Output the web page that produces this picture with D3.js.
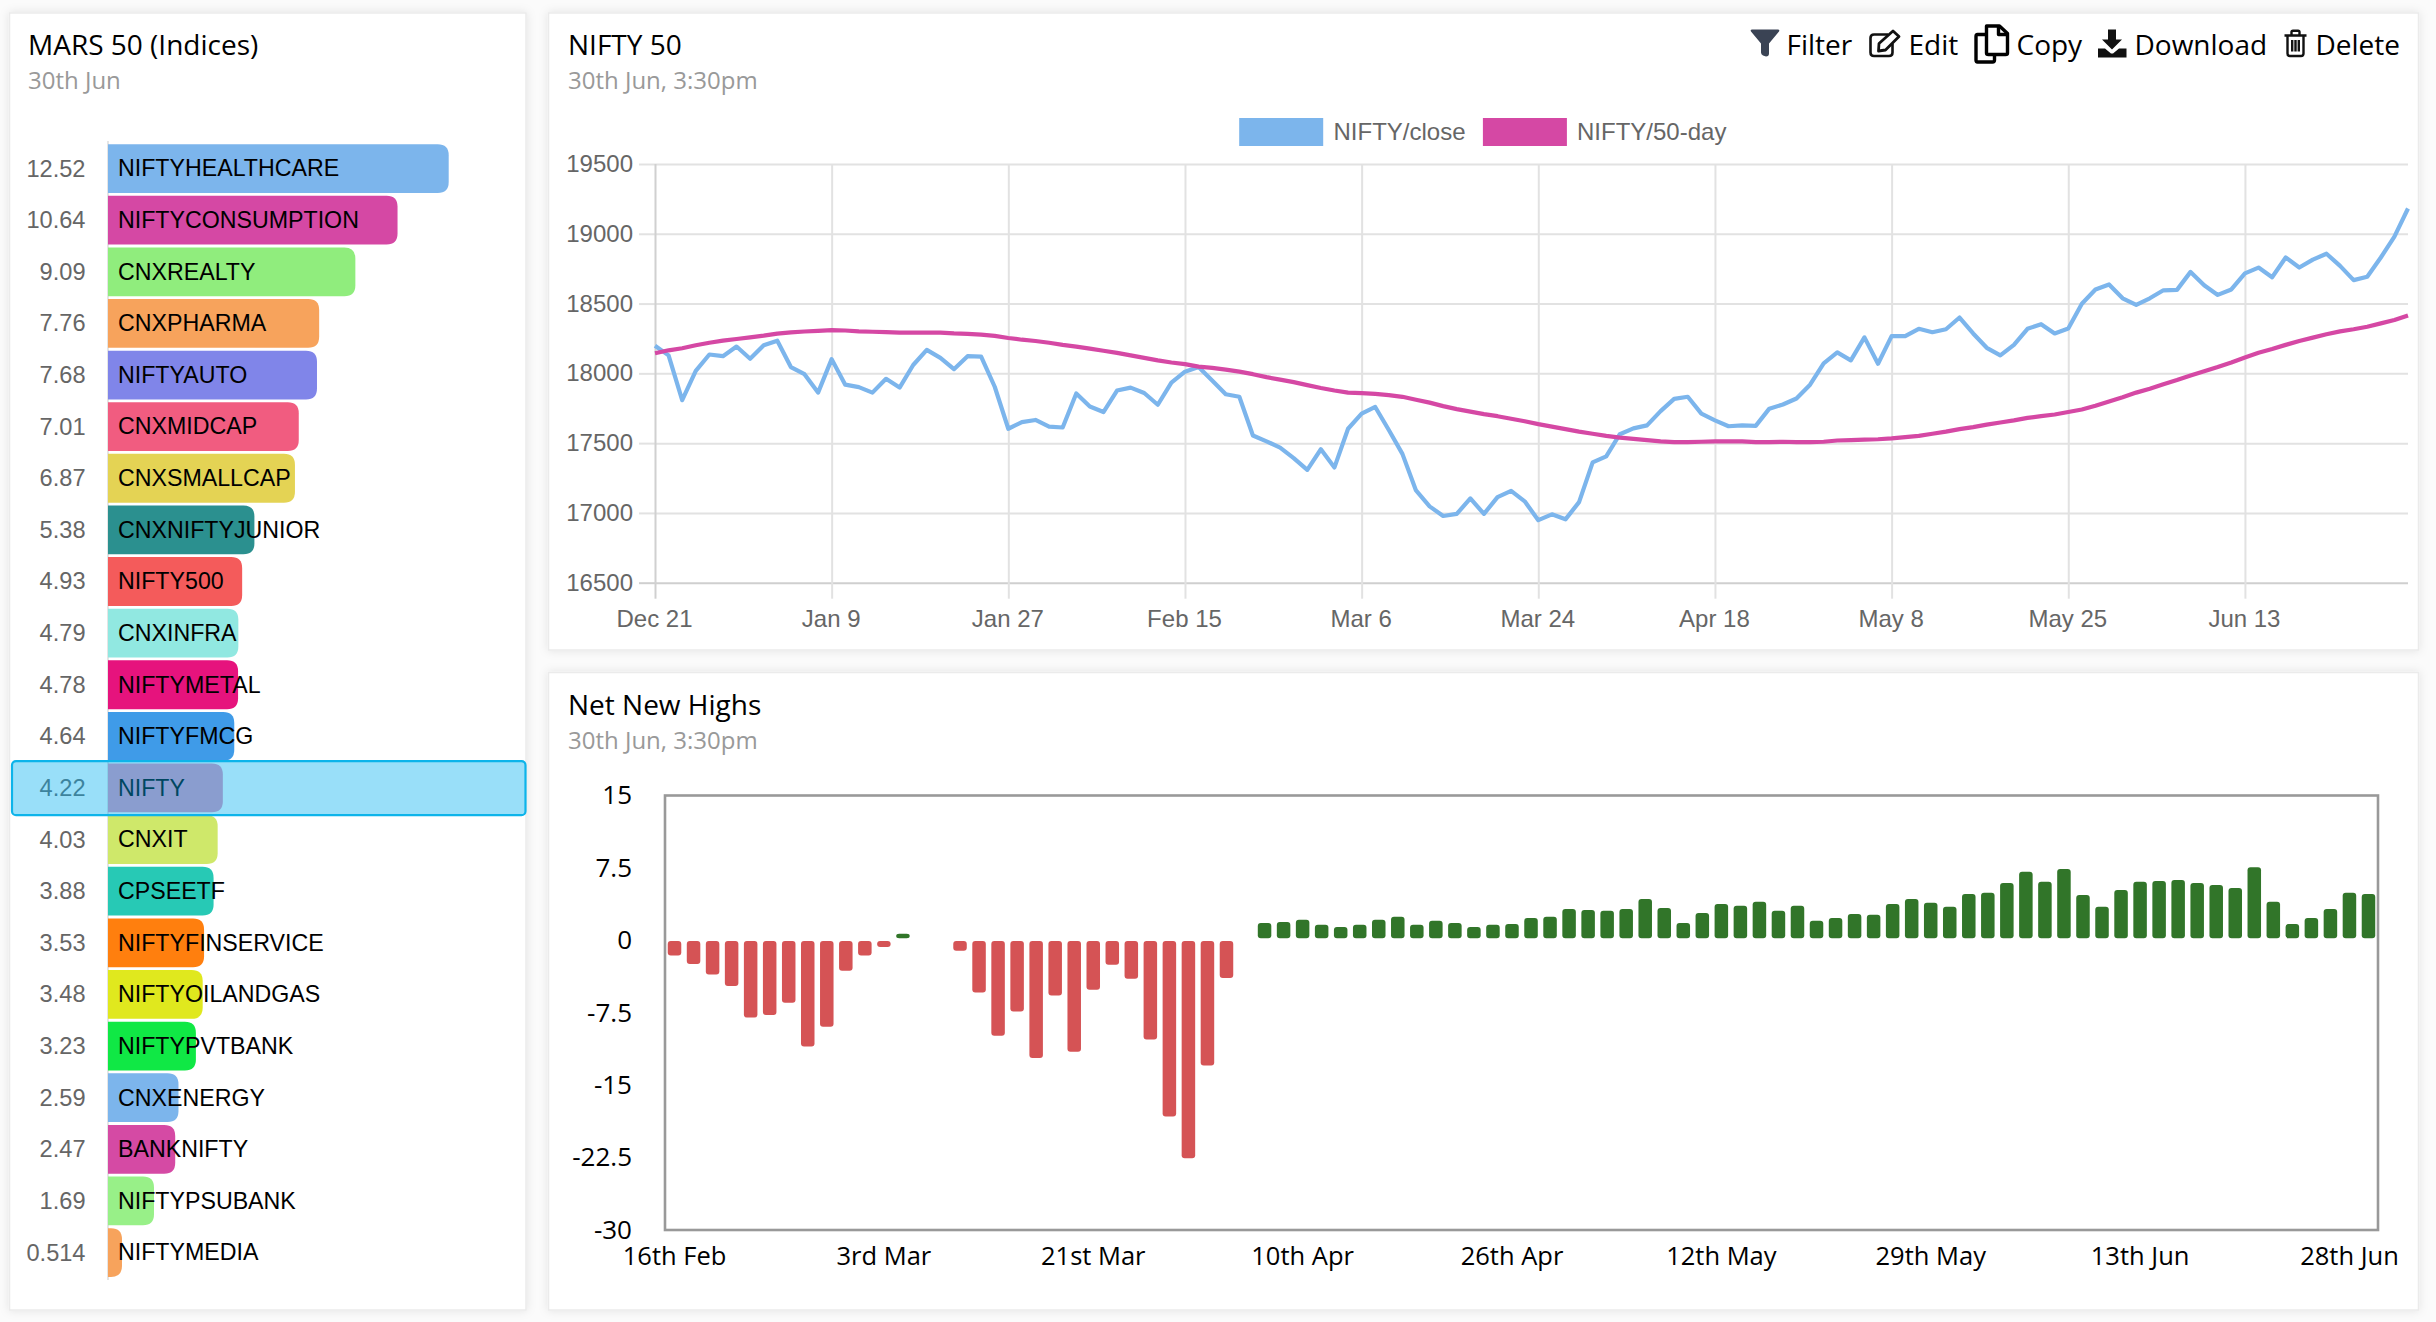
<!DOCTYPE html>
<html>
<head>
<meta charset="utf-8">
<script src="https://cdn.jsdelivr.net/npm/d3@7"></script>
<style>
html,body{margin:0;padding:0;background:#fbfbfb;}
svg{display:block;}
text{font-family:"Open Sans",sans-serif;}
.hv text,text.hv{font-family:"Liberation Sans",Arial,sans-serif;}
</style>
</head>
<body>
<div id="chart"></div>
<script>
// ---- MARS 50 (Indices) ----
const indexNames = ["NIFTYHEALTHCARE","NIFTYCONSUMPTION","CNXREALTY","CNXPHARMA","NIFTYAUTO","CNXMIDCAP","CNXSMALLCAP","CNXNIFTYJUNIOR","NIFTY500","CNXINFRA","NIFTYMETAL","NIFTYFMCG","NIFTY","CNXIT","CPSEETF","NIFTYFINSERVICE","NIFTYOILANDGAS","NIFTYPVTBANK","CNXENERGY","BANKNIFTY","NIFTYPSUBANK","NIFTYMEDIA"];
const indexValues = [12.52,10.64,9.09,7.76,7.68,7.01,6.87,5.38,4.93,4.79,4.78,4.64,4.22,4.03,3.88,3.53,3.48,3.23,2.59,2.47,1.69,0.514];
const indexColors = ["#7cb5ec","#d548a4","#90ed7d","#f7a35c","#8085e9","#f15c80","#e4d354","#2b908f","#f45b5b","#91e8e1","#e6137d","#3f9be8","#e692ba","#cfe86a","#27c9b5","#ff7f0e","#e0e81e","#10e845","#7cb5ec","#d54aa4","#98f088","#f7a35c"];
const selectedIndex = "NIFTY";

// ---- NIFTY 50 ----
const closeValues = [18198,18129,17808,18018,18135,18123,18192,18105,18201,18234,18045,17994,17862,18102,17919,17901,17862,17961,17898,18060,18168,18111,18030,18123,18120,17904,17603,17651,17666,17618,17612,17856,17762,17723,17877,17898,17859,17775,17934,18012,18045,17949,17850,17832,17555,17513,17468,17393,17309,17456,17326,17603,17711,17759,17594,17423,17161,17047,16978,16993,17104,16993,17113,17158,17083,16948,16990,16954,17077,17362,17405,17564,17606,17627,17729,17817,17832,17711,17663,17621,17627,17624,17747,17777,17820,17919,18072,18150,18093,18258,18069,18267,18267,18319,18295,18316,18400,18286,18183,18129,18204,18319,18352,18286,18322,18499,18601,18637,18538,18490,18538,18595,18598,18727,18631,18562,18601,18716,18758,18689,18830,18758,18815,18857,18770,18668,18692,18830,18980,19181];
const fiftyDayValues = [18144,18165,18180,18201,18219,18234,18246,18258,18270,18285,18294,18300,18304,18310,18307,18301,18298,18296,18292,18292,18292,18292,18286,18283,18277,18268,18253,18241,18232,18219,18204,18192,18177,18162,18147,18129,18111,18093,18078,18066,18048,18039,18027,18012,17994,17973,17955,17937,17916,17895,17877,17862,17859,17853,17844,17832,17811,17790,17765,17744,17726,17708,17693,17675,17657,17636,17618,17600,17582,17567,17552,17540,17531,17522,17513,17507,17507,17510,17513,17513,17513,17507,17507,17510,17507,17507,17510,17519,17522,17525,17528,17534,17543,17552,17567,17582,17600,17615,17633,17648,17663,17681,17693,17705,17723,17741,17768,17799,17829,17862,17889,17922,17952,17985,18015,18045,18078,18114,18147,18174,18204,18232,18256,18280,18301,18316,18334,18358,18382,18415];
const niftyTickLabels = ["Dec 21","Jan 9","Jan 27","Feb 15","Mar 6","Mar 24","Apr 18","May 8","May 25","Jun 13"];
const niftyTickIndexes = [0,13,26,39,52,65,78,91,104,117];
const niftyYTicks = [16500,17000,17500,18000,18500,19000,19500];
const legendNames = ["NIFTY/close","NIFTY/50-day"];
const legendColors = ["#7cb5ec","#d548a4"];

// ---- Net New Highs ----
const nnhValues = [-1.57,-2.45,-3.54,-4.72,-8.0,-7.73,-6.46,-11.0,-8.95,-3.14,-1.57,-0.7,0.67,0,0,-1.09,-5.41,-9.87,-7.38,-12.18,-5.72,-11.53,-5.11,-2.53,-3.97,-10.26,-18.25,-22.58,-12.97,-3.89,0,1.8,1.91,2.14,1.62,1.39,1.62,2.14,2.43,1.62,2.02,1.8,1.39,1.62,1.69,2.32,2.43,3.25,3.14,3.06,3.25,4.29,3.36,1.8,2.84,3.77,3.58,3.99,3.06,3.58,2.02,2.32,2.73,2.65,3.77,4.29,3.88,3.47,4.81,4.92,5.95,7.1,6.07,7.4,4.69,3.47,5.21,6.07,6.14,6.25,5.95,5.74,5.43,7.58,3.99,1.69,2.32,3.25,4.92,4.81];
const nnhTickLabels = ["16th Feb","3rd Mar","21st Mar","10th Apr","26th Apr","12th May","29th May","13th Jun","28th Jun"];
const nnhTickIndexes = [0,11,22,33,44,55,66,77,88];
const nnhYTicks = [15,7.5,0,-7.5,-15,-22.5,-30];
const nnhNeg = "#d55355", nnhPos = "#317529";

const svg = d3.select("#chart").append("svg").attr("width",2436).attr("height",1322);

// cards
const defs = svg.append("defs");
const flt = defs.append("filter").attr("id","sh").attr("x","-5%").attr("y","-5%").attr("width","110%").attr("height","110%");
flt.append("feDropShadow").attr("dx",0).attr("dy",0).attr("stdDeviation",5).attr("flood-color","#000").attr("flood-opacity",0.10);
const cards = [[9.5,13,516.5,1297],[548.5,13,1870,637],[548.5,672.5,1870,637.5]];
svg.selectAll("rect.card").data(cards).join("rect").attr("class","card")
  .attr("x",d=>d[0]).attr("y",d=>d[1]).attr("width",d=>d[2]).attr("height",d=>d[3])
  .attr("fill","#fff").attr("stroke","#ebebeb").attr("stroke-width",1.5).attr("filter","url(#sh)");

function heading(x,y,title,sub,dy){
  svg.append("text").attr("x",x).attr("y",y).attr("font-size",28).attr("fill","#000").text(title);
  svg.append("text").attr("x",x).attr("y",y+dy).attr("font-size",24).attr("fill","#999").text(sub);
}
heading(28,54.7,"MARS 50 (Indices)","30th Jun",34.5);
heading(568,54.7,"NIFTY 50","30th Jun, 3:30pm",34.5);
heading(568,715,"Net New Highs","30th Jun, 3:30pm",33.5);

// ---- bars on the left
const bx = d3.scaleLinear().domain([0,12.52]).range([108,448.7]);
const by = d3.scaleBand().domain(indexNames).range([142.6,1278.5]).paddingInner(0.055).paddingOuter(0.03);
const gL = svg.append("g").attr("class","hv");
gL.append("line").attr("x1",108).attr("x2",108).attr("y1",141).attr("y2",1280).attr("stroke","#ddd").attr("stroke-width",1.5);
const roundRight = (x0,x1,y0,y1,r)=>{
  r=Math.min(r,x1-x0);
  const p=d3.path();
  p.moveTo(x0,y0); p.lineTo(x1-r,y0); p.quadraticCurveTo(x1,y0,x1,y0+r);
  p.lineTo(x1,y1-r); p.quadraticCurveTo(x1,y1,x1-r,y1); p.lineTo(x0,y1); p.closePath();
  return p.toString();
};
const rows = gL.selectAll("g.row").data(indexNames).join("g").attr("class","row");
rows.append("path").attr("d",(d,i)=>roundRight(bx(0),bx(indexValues[i]),by(d),by(d)+by.bandwidth(),11)).attr("fill",(d,i)=>indexColors[i]);
rows.append("text").attr("x",118).attr("y",d=>by(d)+by.bandwidth()/2-0.5).attr("dy","0.36em").attr("font-size",23.2).attr("fill","#000").text(d=>d);
rows.append("text").attr("x",85.5).attr("y",d=>by(d)+by.bandwidth()/2-0.5).attr("dy","0.36em").attr("text-anchor","end").attr("font-size",23.6).attr("fill","#666").text((d,i)=>String(indexValues[i]));
gL.append("rect").attr("x",12).attr("y",by(selectedIndex)-2.4).attr("width",513.5).attr("height",by.bandwidth()+5.2).attr("rx",4)
  .attr("fill","rgba(0,174,239,0.4)").attr("stroke","#0db4ea").attr("stroke-width",2.2);

// ---- line chart
const lx = d3.scaleLinear().domain([0,closeValues.length-1]).range([655,2408]);
const ly = d3.scaleLinear().domain([16500,19500]).range([582.7,164]);
const gC = svg.append("g").attr("class","hv");
const styleAxis = (g,color,fs)=>{
  g.select(".domain").remove();
  g.selectAll(".tick line").attr("stroke",color).attr("stroke-width",2);
  g.selectAll("text").attr("font-size",fs).attr("fill","#666");
};
gC.append("g").attr("transform","translate(655,0)")
  .call(d3.axisLeft(ly).tickValues(niftyYTicks).tickSize(-(2408-655)).tickFormat(""))
  .call(g=>styleAxis(g,"#e2e2e2",24))
  .call(g=>g.selectAll(".tick line").filter(d=>d===16500).attr("stroke","#cfcfcf"));
gC.append("g").attr("transform","translate(655,0)")
  .call(d3.axisLeft(ly).tickValues(niftyYTicks).tickSize(16).tickPadding(6).tickFormat(d=>String(d)))
  .call(g=>styleAxis(g,"#e2e2e2",24))
  .call(g=>g.selectAll(".tick line").filter(d=>d===16500).attr("stroke","#cfcfcf"))
  .call(g=>g.selectAll("text").attr("dy","0.31em"));
gC.append("g").attr("transform","translate(0,582.7)")
  .call(d3.axisBottom(lx).tickValues(niftyTickIndexes).tickSize(-418.7).tickFormat(""))
  .call(g=>styleAxis(g,"#e2e2e2",24))
  .call(g=>g.selectAll(".tick line").filter(d=>d===0).attr("stroke","#d0d0d0"));
gC.append("g").attr("transform","translate(0,582.7)")
  .call(d3.axisBottom(lx).tickValues(niftyTickIndexes).tickSize(16).tickPadding(11.5).tickFormat((d,i)=>niftyTickLabels[i]))
  .call(g=>styleAxis(g,"#e2e2e2",24))
  .call(g=>g.selectAll(".tick line").filter(d=>d===0).attr("stroke","#d0d0d0"))
  .call(g=>g.selectAll("text").attr("dx",-1));
const lineGen = d3.line().x((d,i)=>lx(i)).y(d=>ly(d));
gC.append("path").attr("d",lineGen(closeValues)).attr("fill","none").attr("stroke",legendColors[0]).attr("stroke-width",4.2).attr("stroke-linejoin","round");
gC.append("path").attr("d",lineGen(fiftyDayValues)).attr("fill","none").attr("stroke",legendColors[1]).attr("stroke-width",4.2).attr("stroke-linejoin","round");
const legendX = [1239.2,1482.9];
const legendTextX = [1333.5,1577];
legendNames.forEach((n,i)=>{
  gC.append("rect").attr("x",legendX[i]).attr("y",118).attr("width",84).attr("height",28).attr("fill",legendColors[i]);
  gC.append("text").attr("x",legendTextX[i]).attr("y",140).attr("font-size",24).attr("fill","#666").text(n);
});

// ---- toolbar
const tools = [["Filter",1786.5],["Edit",1908.5],["Copy",2016.5],["Download",2134.5],["Delete",2315.5]];
svg.selectAll("text.tool").data(tools).join("text").attr("class","tool")
  .attr("x",d=>d[1]).attr("y",54.7).attr("font-size",28).attr("fill","#000").text(d=>d[0]);
// filter
svg.append("path").attr("transform","translate(1751,29.5)").attr("fill","#3a4354")
  .attr("d","M1,0H27Q29,0 28,2L18,14V24Q18,27 15,27L12,26Q10,25 10,23V14L0,2Q-1,0 1,0Z");
// edit
const ed = svg.append("g").attr("transform","translate(1869,29.5)").attr("fill","none").attr("stroke","#111").attr("stroke-width",2.6);
ed.append("path").attr("d","M19,5H5Q1.5,5 1.5,8.5V23Q1.5,26.5 5,26.5H20Q23.5,26.5 23.5,23V14");
ed.append("path").attr("stroke-width",2.8).attr("stroke-linejoin","round").attr("d","M10,14L24,1.5L30,7L16.5,20.5L9.5,21.5Z");
// copy
const cp = svg.append("g").attr("transform","translate(1974.5,24.5)").attr("fill","#fff").attr("stroke","#000").attr("stroke-width",3.4).attr("stroke-linejoin","round");
cp.append("path").attr("d","M12,10H3Q1.5,10 1.5,12V35.5Q1.5,37.5 3,37.5H18Q20,37.5 20,35.5V30");
cp.append("path").attr("d","M12,1.5H25L33,9V28.5Q33,30 31,30H14Q12,30 12,28.5Z");
cp.append("path").attr("fill","none").attr("d","M24,1.5V10H33");
// download
const dl = svg.append("g").attr("transform","translate(2098,29.5)").attr("fill","#111");
dl.append("path").attr("d","M10,0H18V10H24L14,20L4,10H10Z");
dl.append("path").attr("d","M0,19H7L13,24H15L21,19H28.5V28H0Z");
// delete
const tr = svg.append("g").attr("transform","translate(2284.5,29.5)").attr("fill","none").attr("stroke","#111").attr("stroke-width",2.4);
tr.append("path").attr("d","M0,6H22M3,6V24Q3,26.5 5.5,26.5H16.5Q19,26.5 19,24V6M7,6V2.5Q7,1.2 8.5,1.2H13.5Q15,1.2 15,2.5V6M7.7,10.5V22M11,10.5V22M14.3,10.5V22");

// ---- Net New Highs
const nx = d3.scaleBand().domain(d3.range(nnhValues.length)).range([665,2378]).paddingInner(0.29).paddingOuter(0.145);
const ny = d3.scaleLinear().domain([-30,15]).range([1230,795.5]);
const gB = svg.append("g");
gB.append("rect").attr("x",nx.range()[0]).attr("y",ny(15)).attr("width",2378-665).attr("height",ny(-30)-ny(15))
  .attr("fill","none").attr("stroke","#999").attr("stroke-width",2.6);
gB.selectAll("rect.bar").data(nnhValues).join("rect").attr("class","bar")
  .each(function(d,i){
    if(d===0){d3.select(this).remove();return;}
    const s=d3.select(this).attr("x",nx(i)).attr("width",nx.bandwidth()).attr("rx",3).attr("fill",d<0?nnhNeg:nnhPos);
    if(d<0){s.attr("y",ny(0)+0.7).attr("height",ny(d)-ny(0)-0.7);}
    else{s.attr("y",ny(d)).attr("height",ny(0)-ny(d)-2);}
  });
gB.append("g").attr("transform","translate(664,0)")
  .call(d3.axisLeft(ny).tickValues(nnhYTicks).tickSize(0).tickPadding(32).tickFormat(d=>String(d)))
  .call(g=>{g.select(".domain").remove();g.selectAll("text").attr("font-size",26).attr("fill","#000").attr("font-family","'Open Sans',sans-serif");});
gB.append("g").attr("transform","translate(0,1230)")
  .call(d3.axisBottom(nx).tickValues(nnhTickIndexes).tickSize(0).tickPadding(16.5).tickFormat((d,i)=>nnhTickLabels[i]))
  .call(g=>{g.select(".domain").remove();g.selectAll("text").attr("font-size",25.5).attr("fill","#000").attr("font-family","'Open Sans',sans-serif");});
</script>
</body>
</html>
